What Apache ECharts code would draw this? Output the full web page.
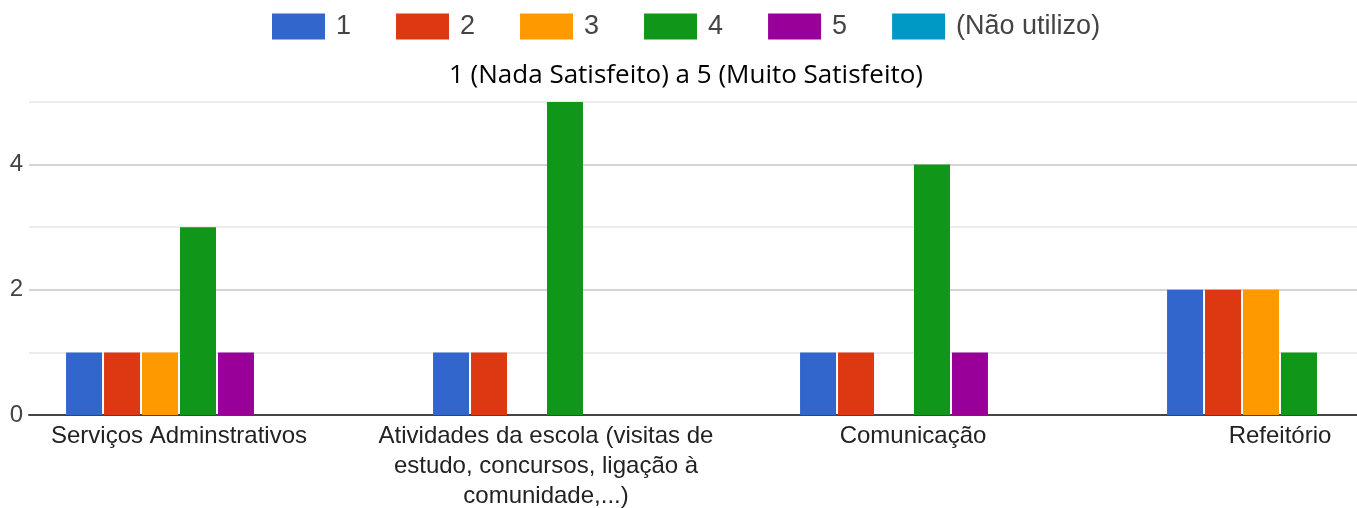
<!DOCTYPE html>
<html>
<head>
<meta charset="utf-8">
<script src="https://cdn.jsdelivr.net/npm/echarts@6/dist/echarts.min.js"></script>
<style>
  html, body { margin: 0; padding: 0; background: #fff; }
  #chart { width: 1357px; height: 508px; }
</style>
</head>
<body>
<div id="chart"></div>
<script>
var categories = [
  'Serviços Adminstrativos',
  'Atividades da escola (visitas de\nestudo, concursos, ligação à\ncomunidade,...)',
  'Comunicação',
  'Refeitório'
];
var seriesNames = ['1', '2', '3', '4', '5', '(Não utilizo)'];
var colors = ['#3366cc', '#dc3912', '#ff9900', '#109618', '#990099', '#0099c6'];
var values1 = [1, 1, 1, 2];
var values2 = [1, 1, 1, 2];
var values3 = [1, 0, 0, 2];
var values4 = [3, 5, 4, 1];
var values5 = [1, 0, 1, 0];
var valuesNao = [0, 0, 0, 0];
var allValues = [values1, values2, values3, values4, values5, valuesNao];

var chartDom = document.getElementById('chart');
var myChart = echarts.init(chartDom);
var font = '"Liberation Sans", Arial, sans-serif';

var series = seriesNames.map(function (name, i) {
  return {
    name: name,
    type: 'bar',
    xAxisIndex: 1,
    yAxisIndex: 1,
    barWidth: 36,
    barGap: '5.5%',
    itemStyle: { color: colors[i] },
    data: allValues[i]
  };
});

var option = {
  animation: false,
  color: colors,
  title: {
    text: '1 (Nada Satisfeito) a 5 (Muito Satisfeito)',
    left: 686,
    textAlign: 'center',
    top: 63,
    padding: 0,
    textStyle: { fontFamily: '"Open Sans", sans-serif', fontWeight: 'normal', fontSize: 26, color: '#000' }
  },
  legend: {
    data: seriesNames,
    left: 272,
    top: 13,
    padding: 0,
    itemWidth: 53,
    itemHeight: 26,
    itemGap: 45,
    icon: 'rect',
    textStyle: { fontFamily: font, fontSize: 27, color: '#444', padding: [2, 0, 0, 6] }
  },
  grid: [
    { left: 29, right: 0, top: 102, height: 313, outerBoundsMode: 'none' },
    { left: -4.5, width: 1468, top: 102, height: 313, outerBoundsMode: 'none' }
  ],
  xAxis: [
    {
      type: 'value', gridIndex: 0, min: 0, max: 1,
      axisLine: { show: true, onZero: false, lineStyle: { color: '#444', width: 2 } },
      axisTick: { show: false }, axisLabel: { show: false }, splitLine: { show: false }
    },
    {
      type: 'category', gridIndex: 1, data: categories,
      axisLine: { show: false }, axisTick: { show: false },
      axisLabel: { interval: 0, margin: 6, fontFamily: font, fontSize: 24, lineHeight: 30, color: '#222' }
    }
  ],
  yAxis: [
    {
      type: 'value', gridIndex: 0, min: 0, max: 5, interval: 1,
      axisLine: { show: false }, axisTick: { show: false },
      axisLabel: {
        margin: 6, fontFamily: font, fontSize: 24, color: '#444',
        formatter: function (v) { return v % 2 === 0 ? v : ''; }
      },
      splitLine: { lineStyle: { color: ['#d4d4d4', '#ececec'], width: 2 } }
    },
    {
      type: 'value', gridIndex: 1, min: 0, max: 5, interval: 1,
      axisLine: { show: false }, axisTick: { show: false },
      axisLabel: { show: false }, splitLine: { show: false }
    }
  ],
  series: series
};

option && myChart.setOption(option);
</script>
</body>
</html>
